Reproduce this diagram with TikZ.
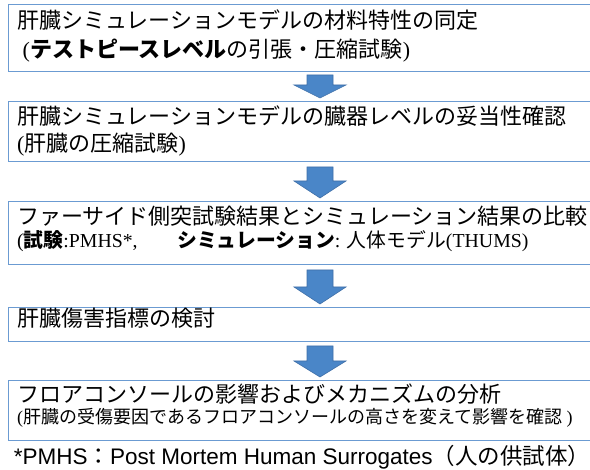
\documentclass[tikz,border=0pt]{standalone}
\usepackage{fontspec}
\setmainfont{Noto Sans CJK JP}
\newfontfamily\lat{Liberation Serif}
\newfontfamily\las{Liberation Sans}
\definecolor{boxline}{HTML}{6B9BD2}
\definecolor{arrowfill}{HTML}{4A86C8}
\definecolor{arrowline}{HTML}{3E6FA8}
\newcommand\blockarrow[3]{\draw[blockarrow] (307,#1) -- (333,#1) -- (333,#2) -- (346,#2) -- (320,#3) -- (294,#2) -- (307,#2) -- cycle;}
\begin{document}
\begin{tikzpicture}[x=1pt,y=-1pt,
  box/.style={draw=boxline, line width=1.3pt, anchor=north west, inner sep=0pt, minimum width=600pt},
  txt/.style={anchor=west, inner sep=0pt, font=\fontsize{22}{26}\selectfont, text height=0.86em, text depth=0.14em},
  smalltxt/.style={txt, font=\fontsize{19.8}{23}\selectfont},
  tinytxt/.style={txt, font=\fontsize{18}{21}\selectfont},
  blockarrow/.style={fill=arrowfill, draw=arrowline, line width=0.6pt, line join=miter}]
\useasboundingbox (0,0) rectangle (590,470);
\fill[white] (0,0) rectangle (590,470);
% boxes
\node[box, minimum height=67pt] (b1) at (8,4) {};
\node[box, minimum height=60pt] (b2) at (8,101) {};
\node[box, minimum height=63pt] (b3) at (8,201) {};
\node[box, minimum height=34pt] (b4) at (8,307) {};
\node[box, minimum height=60pt] (b5) at (8,380) {};
% texts
\node[txt] (t1a) at (17,25) {肝臓シミュレーションモデルの材料特性の同定};
\node[txt] (t1b) at (17,54) {\hspace{0.25em}{\lat (}\textbf{テストピースレベル}の引張・圧縮試験{\lat )}};
\node[txt] (t2a) at (17,121) {肝臓シミュレーションモデルの臓器レベルの妥当性確認};
\node[txt] (t2b) at (17,148) {{\lat (}肝臓の圧縮試験{\lat )}};
\node[txt] (t3a) at (17,221) {ファーサイド側突試験結果とシミュレーション結果の比較};
\node[smalltxt] (t3b) at (17,244) {{\lat (}\textbf{試験}{\lat :PMHS*,}　　\textbf{シミュレーション}{\lat : }人体モデル{\lat (THUMS)}};
\node[txt] (t4) at (17,323) {肝臓傷害指標の検討};
\node[txt] (t5a) at (17,399) {フロアコンソールの影響およびメカニズムの分析};
\node[tinytxt] (t5b) at (17,420) {{\lat (}肝臓の受傷要因であるフロアコンソールの高さを変えて影響を確認{\lat \ )}};
% arrows
\blockarrow{75}{85}{98}
\blockarrow{167}{181}{198}
\blockarrow{270}{287}{304}
\blockarrow{346}{361}{377}
% footnote
\node[anchor=center, inner sep=0pt, font=\fontsize{22.5}{26}\selectfont] (fn) at (302,457) {{\las *PMHS}：{\las Post Mortem Human Surrogates}（人の供試体）};
\end{tikzpicture}
\end{document}
